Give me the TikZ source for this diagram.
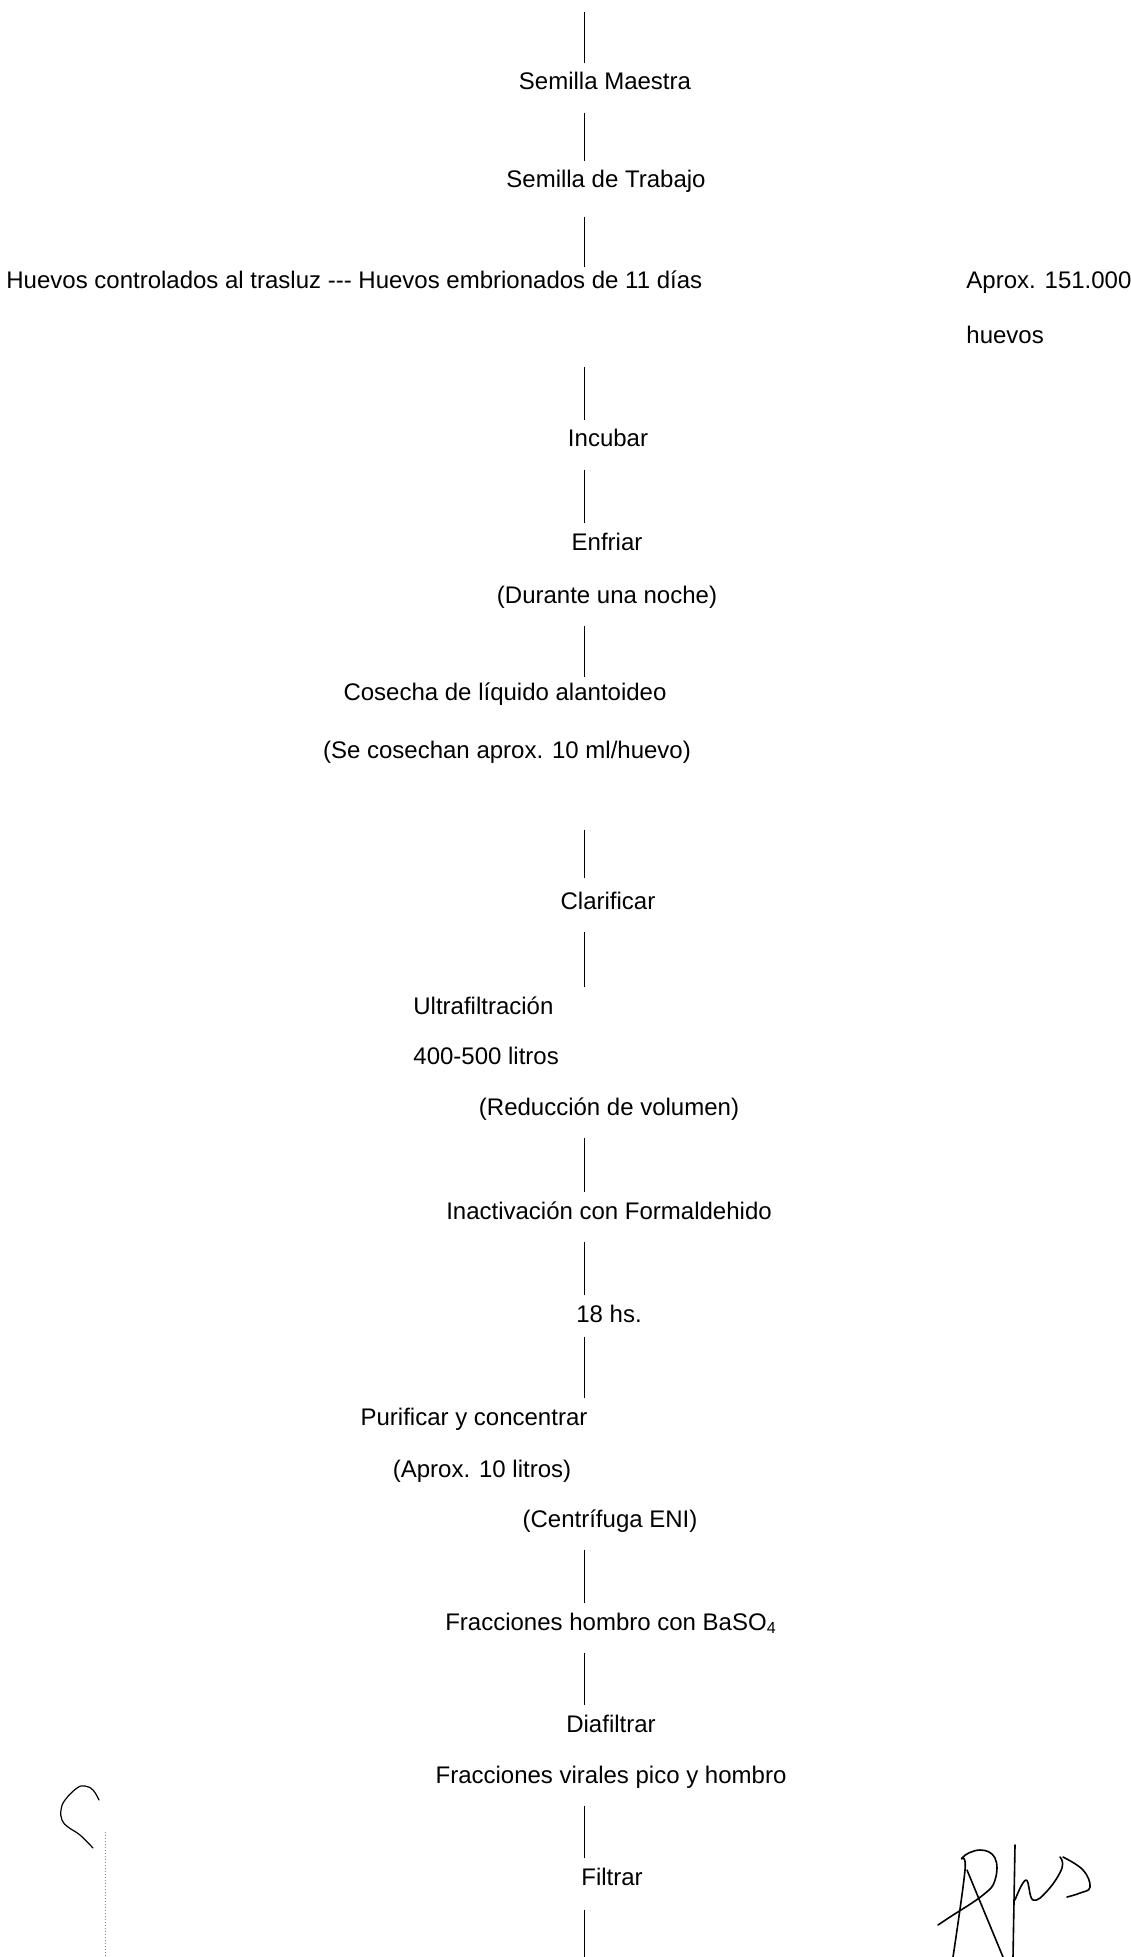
\documentclass[tikz,border=0pt]{standalone}
\usepackage{fontspec}
\setmainfont{Liberation Sans}

\begin{document}
\begin{tikzpicture}[x=0.5pt, y=-0.5pt,
                    stage/.style={inner sep=0pt, anchor=base},
                    aside/.style={inner sep=0pt, anchor=base west},
                    link/.style={line width=0.45pt, shorten <=11.5pt, shorten >=13.5pt},
                    ink/.style={line width=0.8pt, line cap=round, line join=round},
                    font=\fontsize{12pt}{14pt}\selectfont]
  \useasboundingbox (0, 0) rectangle (1130, 1957);

  % Stages.
  \node at (605, 90) [stage, name=SemillaMaestra] {Semilla Maestra};
  \node at (606, 188) [stage, name=SemillaTrabajo] {Semilla de Trabajo};
  \node at (6, 289) [aside, name=Huevos] {Huevos controlados al trasluz \mbox{-}\mbox{-}\mbox{-} Huevos embrionados de 11 días};
  \node at (966, 289) [aside, name=Aprox] {Aprox. 151.000};
  \node at (966, 344) [aside, name=HuevosTotal] {huevos};
  \node at (608, 447) [stage, name=Incubar] {Incubar};
  \node at (607, 550) [stage, name=Enfriar] {Enfriar};
  \node at (607, 603) [stage, name=Noche] {(Durante una noche)};
  \node at (505, 700) [stage, name=Cosecha] {Cosecha de líquido alantoideo};
  \node at (507, 758) [stage, name=Cosechan] {(Se cosechan aprox. 10 ml/huevo)};
  \node at (608, 909) [stage, name=Clarificar] {Clarificar};
  \node at (413, 1014) [aside, name=Ultrafiltracion] {Ultrafiltración};
  \node at (413, 1064) [aside, name=Litros] {400-500 litros};
  \node at (609, 1115) [stage, name=Reduccion] {(Reducción de volumen)};
  \node at (609, 1219) [stage, name=Inactivacion] {Inactivación con Formaldehido};
  \node at (609, 1322) [stage, name=Horas] {18 hs.};
  \node at (474, 1425) [stage, name=Purificar] {Purificar y concentrar};
  \node at (482, 1477) [stage, name=DiezLitros] {(Aprox. 10 litros)};
  \node at (610, 1527) [stage, name=Centrifuga] {(Centrífuga ENI)};
  \node at (611, 1630) [stage, name=FraccionesHombro] {Fracciones hombro con BaSO\textsubscript{4}};
  \node at (611, 1732) [stage, name=Diafiltrar] {Diafiltrar};
  \node at (611, 1783) [stage, name=FraccionesVirales] {Fracciones virales pico y hombro};
  \node at (612, 1885) [stage, name=Filtrar] {Filtrar};

  % Vertical flow line and its loose ends.
  \coordinate (spine) at (584, 0);
  \coordinate (start) at (584, 12);
  \coordinate (finish) at (584, 1957);

  % Flow.
  \draw [link, shorten <=0pt] (start) -- (spine |- SemillaMaestra.base);
  \draw [link] (spine |- SemillaMaestra.base) -- (spine |- SemillaTrabajo.base);
  \draw [link, shorten <=14.5pt, shorten >=11pt] (spine |- SemillaTrabajo.base) -- (spine |- Huevos.base);
  \draw [link] (spine |- HuevosTotal.base) -- (spine |- Incubar.base);
  \draw [link] (spine |- Incubar.base) -- (spine |- Enfriar.base);
  \draw [link, shorten >=11.5pt] (spine |- Noche.base) -- (spine |- Cosecha.base);
  \draw [link, shorten <=36pt, shorten >=15.5pt] (spine |- Cosechan.base) -- (spine |- Clarificar.base);
  \draw [link] (spine |- Clarificar.base) -- (spine |- Ultrafiltracion.base);
  \draw [link] (spine |- Reduccion.base) -- (spine |- Inactivacion.base);
  \draw [link] (spine |- Inactivacion.base) -- (spine |- Horas.base);
  \draw [link, shorten <=7.5pt] (spine |- Horas.base) -- (spine |- Purificar.base);
  \draw [link] (spine |- Centrifuga.base) -- (spine |- FraccionesHombro.base);
  \draw [link] (spine |- FraccionesHombro.base) -- (spine |- Diafiltrar.base);
  \draw [link] (spine |- FraccionesVirales.base) -- (spine |- Filtrar.base);
  \draw [link, shorten <=12.5pt, shorten >=0pt] (spine |- Filtrar.base) -- (finish);

  % Signature.
  \draw [ink] plot [smooth, tension=0.7] coordinates
        {(938, 1925) (950, 1917) (983, 1895) (995, 1880) (995, 1858) (980, 1850) (962, 1858) (965, 1870) (953, 1957)};
  \draw [ink] (967, 1870) -- (1003, 1957);
  \draw [ink] (1015, 1845) -- (1013, 1957);
  \draw [ink] plot [smooth, tension=0.7] coordinates
        {(1015, 1900) (1026, 1880) (1033, 1900) (1048, 1890) (1062, 1868) (1060, 1857)};
  \draw [ink] plot [smooth, tension=0.7] coordinates
        {(1063, 1857) (1083, 1870) (1090, 1887) (1080, 1893) (1067, 1897)};

  % Margin mark.
  \draw [ink, line width=0.6pt] plot [smooth, tension=0.7] coordinates
        {(99, 1800) (93, 1790) (85, 1786) (77, 1788) (65, 1800) (61, 1810) (62, 1820) (68, 1827) (80, 1835) (93, 1848)};
  \draw [densely dotted, line width=0.5pt, gray] (105, 1832) -- (105, 1957);
\end{tikzpicture}
\end{document}
